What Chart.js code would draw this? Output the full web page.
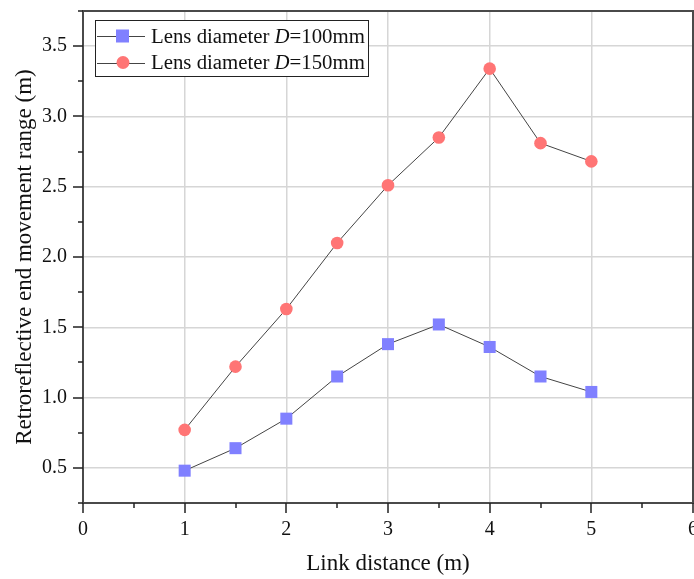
<!DOCTYPE html>
<html>
<head>
<meta charset="utf-8">
<script src="https://cdn.jsdelivr.net/npm/chart.js@4"></script>
<style>
html,body{margin:0;padding:0;background:#fff;overflow:hidden;}
#wrap{width:694px;height:579px;position:relative;}
</style>
</head>
<body>
<div id="wrap"><canvas id="c" width="694" height="579"></canvas></div>
<script>
const linkDistance = [1, 1.5, 2, 2.5, 3, 3.5, 4, 4.5, 5];
const rangeD100 = [0.48, 0.64, 0.85, 1.15, 1.38, 1.52, 1.36, 1.15, 1.04];
const rangeD150 = [0.77, 1.22, 1.63, 2.10, 2.51, 2.85, 3.34, 2.81, 2.68];
const xMajorTicks = [0, 1, 2, 3, 4, 5, 6];
const yMajorTicks = [0.5, 1.0, 1.5, 2.0, 2.5, 3.0, 3.5];
const seriesLabels = ['D=100mm', 'D=150mm'];

const FONT = '"Liberation Serif", "Times New Roman", serif';
const blue = '#8080ff';
const red = '#ff7575';
const TICK_FONT = 20;

const framePlugin = {
  id: 'frame',
  afterDraw(chart) {
    const ctx = chart.ctx;
    const a = chart.chartArea;
    const xs = chart.scales.x, ys = chart.scales.y;
    ctx.save();
    ctx.strokeStyle = '#4a4a4a';
    ctx.lineWidth = 2;
    ctx.strokeRect(a.left, a.top, a.right - a.left, a.bottom - a.top);
    ctx.lineWidth = 1.5;
    ctx.strokeStyle = '#222';
    ctx.beginPath();
    for (let v = 0; v <= 6.001; v += 0.5) {
      const px = Math.round(xs.getPixelForValue(v));
      const major = Math.abs(v - Math.round(v)) < 1e-6;
      ctx.moveTo(px, a.bottom);
      ctx.lineTo(px, a.bottom + (major ? 10 : 5));
    }
    for (let v = 0.25; v <= 3.751; v += 0.25) {
      const py = Math.round(ys.getPixelForValue(v));
      const major = Math.abs(v * 2 - Math.round(v * 2)) < 1e-6;
      ctx.moveTo(a.left, py);
      ctx.lineTo(a.left - (major ? 10 : 5), py);
    }
    ctx.stroke();

    // legend
    const bx = 95, by = 20, bw = 273, bh = 56;
    ctx.fillStyle = '#fff';
    ctx.fillRect(bx, by, bw, bh);
    ctx.strokeStyle = '#222';
    ctx.lineWidth = 1;
    ctx.strokeRect(bx + 0.5, by + 0.5, bw, bh);
    const rows = [
      {y: 36, base: 42.5, color: blue, shape: 'rect', label: seriesLabels[0]},
      {y: 62.5, base: 68.5, color: red, shape: 'circle', label: seriesLabels[1]}
    ];
    rows.forEach(r => {
      ctx.strokeStyle = '#444';
      ctx.lineWidth = 1;
      ctx.beginPath();
      ctx.moveTo(97, Math.round(r.y) + 0.5);
      ctx.lineTo(145, Math.round(r.y) + 0.5);
      ctx.stroke();
      ctx.fillStyle = r.color;
      if (r.shape === 'rect') {
        ctx.fillRect(116, r.y - 6.5, 13, 13);
      } else {
        ctx.beginPath();
        ctx.arc(123, r.y, 6.5, 0, Math.PI * 2);
        ctx.fill();
      }
      ctx.fillStyle = '#111';
      ctx.textBaseline = 'alphabetic';
      ctx.textAlign = 'left';
      ctx.font = '20.8px ' + FONT;
      let x = 151;
      const t1 = 'Lens diameter ';
      ctx.fillText(t1, x, r.base);
      x += ctx.measureText(t1).width;
      ctx.font = 'italic 20.8px ' + FONT;
      const parts = r.label.split('=');
      ctx.fillText(parts[0], x, r.base);
      x += ctx.measureText(parts[0]).width;
      ctx.font = '20.8px ' + FONT;
      ctx.fillText('=' + parts[1], x, r.base);
    });
    ctx.restore();
  }
};

new Chart(document.getElementById('c'), {
  type: 'line',
  data: {
    datasets: [
      {
        label: 'Lens diameter D=100mm',
        data: linkDistance.map((x, i) => ({x, y: rangeD100[i]})),
        borderColor: '#444',
        borderWidth: 1,
        pointStyle: 'rect',
        pointRadius: 8.5,
        pointBackgroundColor: blue,
        pointBorderColor: blue,
        pointBorderWidth: 0,
        tension: 0
      },
      {
        label: 'Lens diameter D=150mm',
        data: linkDistance.map((x, i) => ({x, y: rangeD150[i]})),
        borderColor: '#444',
        borderWidth: 1,
        pointStyle: 'circle',
        pointRadius: 6.3,
        pointBackgroundColor: red,
        pointBorderColor: red,
        pointBorderWidth: 0,
        tension: 0
      }
    ]
  },
  options: {
    responsive: false,
    animation: false,
    layout: {autoPadding: false, padding: {top: 11, right: 1, left: 0, bottom: 0}},
    plugins: {legend: {display: false}, tooltip: {enabled: false}},
    scales: {
      x: {
        type: 'linear', min: 0, max: 6,
        afterBuildTicks: s => { s.ticks = xMajorTicks.map(v => ({value: v})); },
        afterFit: s => { s.height = 76; s.paddingLeft = 0; s.paddingRight = 0; },
        grid: {color: '#d6d6d6', lineWidth: 1.5, drawTicks: true, tickLength: 15, tickColor: 'rgba(0,0,0,0)'},
        border: {display: false},
        ticks: {color: '#111', font: {family: FONT, size: TICK_FONT}, padding: 0, maxRotation: 0, autoSkip: false,
          callback: v => String(v)},
        title: {display: true, text: 'Link distance (m)', color: '#111', font: {family: FONT, size: 23}, padding: {top: 0, bottom: 1}}
      },
      y: {
        type: 'linear', min: 0.25, max: 3.75,
        afterBuildTicks: s => { s.ticks = yMajorTicks.map(v => ({value: v})); },
        afterFit: s => { s.width = 83; s.paddingTop = 0; s.paddingBottom = 0; },
        grid: {color: '#d6d6d6', lineWidth: 1.5, drawTicks: false},
        border: {display: false},
        ticks: {color: '#111', font: {family: FONT, size: TICK_FONT}, padding: 16, callback: v => v.toFixed(1)},
        title: {display: true, text: 'Retroreflective end movement range (m)', color: '#111', font: {family: FONT, size: 23}, padding: {top: 11, bottom: 0}}
      }
    }
  },
  plugins: [framePlugin]
});
</script>
</body>
</html>
